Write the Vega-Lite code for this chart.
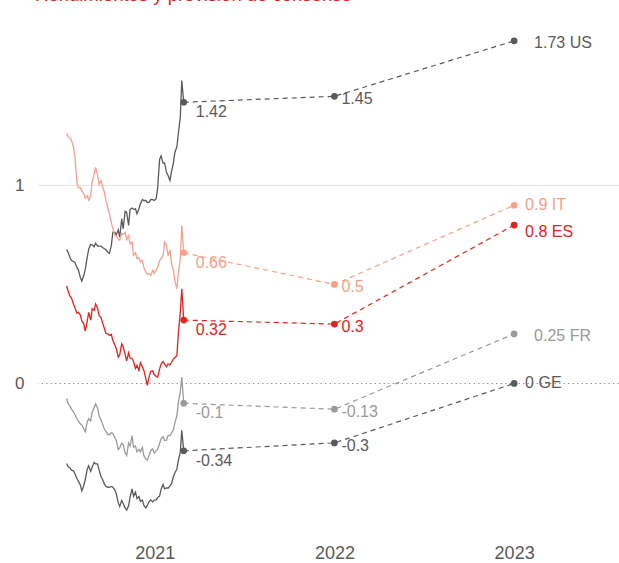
{
  "$schema": "https://vega.github.io/schema/vega-lite/v6.json",
  "width": 581,
  "height": 505,
  "autosize": {"type": "none"},
  "padding": {"left": 38, "top": 27, "right": 0, "bottom": 31},
  "background": "white",
  "config": {"view": {"stroke": null}, "font": "Liberation Sans"},
  "title": {"text": "Rendimientos y previsión de consenso", "color": "#e2231a", "fontSize": 18.5, "font": "Liberation Sans", "fontWeight": "normal", "anchor": "start", "frame": "group", "offset": 22.5, "dx": -3},
  "datasets": {
    "hist": [
      {"d": "2020-07-06", "US": 0.677, "IT": 1.263, "ES": 0.492, "FR": -0.076, "GE": -0.404},
      {"d": "2020-07-09", "US": 0.663, "IT": 1.246, "ES": 0.468, "FR": -0.101, "GE": -0.419},
      {"d": "2020-07-13", "US": 0.636, "IT": 1.241, "ES": 0.441, "FR": -0.116, "GE": -0.426},
      {"d": "2020-07-16", "US": 0.621, "IT": 1.227, "ES": 0.431, "FR": -0.130, "GE": -0.438},
      {"d": "2020-07-20", "US": 0.616, "IT": 1.195, "ES": 0.401, "FR": -0.143, "GE": -0.441},
      {"d": "2020-07-23", "US": 0.611, "IT": 1.146, "ES": 0.382, "FR": -0.157, "GE": -0.456},
      {"d": "2020-07-27", "US": 0.586, "IT": 1.017, "ES": 0.355, "FR": -0.177, "GE": -0.480},
      {"d": "2020-07-30", "US": 0.574, "IT": 0.988, "ES": 0.359, "FR": -0.190, "GE": -0.493},
      {"d": "2020-08-03", "US": 0.535, "IT": 0.990, "ES": 0.345, "FR": -0.204, "GE": -0.513},
      {"d": "2020-08-06", "US": 0.517, "IT": 0.971, "ES": 0.316, "FR": -0.210, "GE": -0.542},
      {"d": "2020-08-10", "US": 0.545, "IT": 0.958, "ES": 0.301, "FR": -0.229, "GE": -0.515},
      {"d": "2020-08-13", "US": 0.576, "IT": 0.936, "ES": 0.264, "FR": -0.244, "GE": -0.485},
      {"d": "2020-08-17", "US": 0.638, "IT": 0.948, "ES": 0.315, "FR": -0.194, "GE": -0.433},
      {"d": "2020-08-20", "US": 0.678, "IT": 0.926, "ES": 0.359, "FR": -0.178, "GE": -0.416},
      {"d": "2020-08-24", "US": 0.702, "IT": 0.949, "ES": 0.320, "FR": -0.189, "GE": -0.444},
      {"d": "2020-08-27", "US": 0.700, "IT": 1.017, "ES": 0.377, "FR": -0.145, "GE": -0.423},
      {"d": "2020-08-31", "US": 0.690, "IT": 1.059, "ES": 0.369, "FR": -0.123, "GE": -0.399},
      {"d": "2020-09-03", "US": 0.709, "IT": 1.091, "ES": 0.401, "FR": -0.103, "GE": -0.406},
      {"d": "2020-09-07", "US": 0.694, "IT": 1.051, "ES": 0.380, "FR": -0.125, "GE": -0.406},
      {"d": "2020-09-10", "US": 0.694, "IT": 1.005, "ES": 0.343, "FR": -0.163, "GE": -0.436},
      {"d": "2020-09-14", "US": 0.694, "IT": 1.024, "ES": 0.333, "FR": -0.184, "GE": -0.470},
      {"d": "2020-09-17", "US": 0.687, "IT": 0.997, "ES": 0.306, "FR": -0.204, "GE": -0.485},
      {"d": "2020-09-21", "US": 0.680, "IT": 0.963, "ES": 0.276, "FR": -0.232, "GE": -0.508},
      {"d": "2020-09-24", "US": 0.675, "IT": 0.923, "ES": 0.253, "FR": -0.242, "GE": -0.520},
      {"d": "2020-09-28", "US": 0.663, "IT": 0.886, "ES": 0.251, "FR": -0.258, "GE": -0.524},
      {"d": "2020-10-01", "US": 0.657, "IT": 0.857, "ES": 0.242, "FR": -0.259, "GE": -0.525},
      {"d": "2020-10-05", "US": 0.697, "IT": 0.811, "ES": 0.247, "FR": -0.249, "GE": -0.520},
      {"d": "2020-10-08", "US": 0.764, "IT": 0.783, "ES": 0.217, "FR": -0.254, "GE": -0.524},
      {"d": "2020-10-12", "US": 0.763, "IT": 0.747, "ES": 0.195, "FR": -0.273, "GE": -0.537},
      {"d": "2020-10-15", "US": 0.751, "IT": 0.747, "ES": 0.175, "FR": -0.288, "GE": -0.557},
      {"d": "2020-10-19", "US": 0.776, "IT": 0.727, "ES": 0.133, "FR": -0.333, "GE": -0.603},
      {"d": "2020-10-22", "US": 0.739, "IT": 0.724, "ES": 0.146, "FR": -0.325, "GE": -0.621},
      {"d": "2020-10-26", "US": 0.832, "IT": 0.758, "ES": 0.200, "FR": -0.301, "GE": -0.591},
      {"d": "2020-10-29", "US": 0.781, "IT": 0.753, "ES": 0.184, "FR": -0.308, "GE": -0.606},
      {"d": "2020-11-02", "US": 0.869, "IT": 0.763, "ES": 0.146, "FR": -0.350, "GE": -0.628},
      {"d": "2020-11-05", "US": 0.865, "IT": 0.727, "ES": 0.114, "FR": -0.364, "GE": -0.640},
      {"d": "2020-11-09", "US": 0.798, "IT": 0.746, "ES": 0.155, "FR": -0.301, "GE": -0.618},
      {"d": "2020-11-12", "US": 0.879, "IT": 0.705, "ES": 0.130, "FR": -0.316, "GE": -0.574},
      {"d": "2020-11-16", "US": 0.886, "IT": 0.714, "ES": 0.125, "FR": -0.263, "GE": -0.532},
      {"d": "2020-11-19", "US": 0.879, "IT": 0.646, "ES": 0.111, "FR": -0.322, "GE": -0.569},
      {"d": "2020-11-23", "US": 0.882, "IT": 0.660, "ES": 0.076, "FR": -0.316, "GE": -0.549},
      {"d": "2020-11-26", "US": 0.857, "IT": 0.631, "ES": 0.091, "FR": -0.345, "GE": -0.581},
      {"d": "2020-11-30", "US": 0.882, "IT": 0.635, "ES": 0.066, "FR": -0.333, "GE": -0.571},
      {"d": "2020-12-03", "US": 0.907, "IT": 0.614, "ES": 0.104, "FR": -0.345, "GE": -0.596},
      {"d": "2020-12-07", "US": 0.929, "IT": 0.621, "ES": 0.084, "FR": -0.322, "GE": -0.589},
      {"d": "2020-12-10", "US": 0.924, "IT": 0.586, "ES": 0.066, "FR": -0.365, "GE": -0.616},
      {"d": "2020-12-14", "US": 0.924, "IT": 0.562, "ES": 0.024, "FR": -0.382, "GE": -0.628},
      {"d": "2020-12-17", "US": 0.914, "IT": 0.552, "ES": -0.010, "FR": -0.387, "GE": -0.616},
      {"d": "2020-12-21", "US": 0.916, "IT": 0.554, "ES": 0.037, "FR": -0.360, "GE": -0.594},
      {"d": "2020-12-24", "US": 0.929, "IT": 0.545, "ES": 0.061, "FR": -0.338, "GE": -0.588},
      {"d": "2020-12-28", "US": 0.928, "IT": 0.571, "ES": 0.064, "FR": -0.330, "GE": -0.599},
      {"d": "2020-12-31", "US": 0.924, "IT": 0.557, "ES": 0.045, "FR": -0.352, "GE": -0.589},
      {"d": "2021-01-04", "US": 0.933, "IT": 0.571, "ES": 0.035, "FR": -0.338, "GE": -0.588},
      {"d": "2021-01-07", "US": 0.987, "IT": 0.586, "ES": 0.032, "FR": -0.333, "GE": -0.576},
      {"d": "2021-01-11", "US": 1.131, "IT": 0.621, "ES": 0.074, "FR": -0.303, "GE": -0.569},
      {"d": "2021-01-14", "US": 1.150, "IT": 0.630, "ES": 0.098, "FR": -0.279, "GE": -0.534},
      {"d": "2021-01-18", "US": 1.113, "IT": 0.646, "ES": 0.111, "FR": -0.269, "GE": -0.510},
      {"d": "2021-01-21", "US": 1.114, "IT": 0.714, "ES": 0.098, "FR": -0.288, "GE": -0.532},
      {"d": "2021-01-25", "US": 1.066, "IT": 0.697, "ES": 0.084, "FR": -0.286, "GE": -0.527},
      {"d": "2021-01-28", "US": 1.051, "IT": 0.646, "ES": 0.098, "FR": -0.263, "GE": -0.529},
      {"d": "2021-02-01", "US": 1.025, "IT": 0.675, "ES": 0.094, "FR": -0.263, "GE": -0.517},
      {"d": "2021-02-04", "US": 1.067, "IT": 0.609, "ES": 0.106, "FR": -0.251, "GE": -0.507},
      {"d": "2021-02-08", "US": 1.114, "IT": 0.569, "ES": 0.123, "FR": -0.234, "GE": -0.470},
      {"d": "2021-02-11", "US": 1.168, "IT": 0.519, "ES": 0.131, "FR": -0.199, "GE": -0.451},
      {"d": "2021-02-15", "US": 1.194, "IT": 0.478, "ES": 0.140, "FR": -0.163, "GE": -0.433},
      {"d": "2021-02-18", "US": 1.261, "IT": 0.554, "ES": 0.251, "FR": -0.098, "GE": -0.389},
      {"d": "2021-02-22", "US": 1.345, "IT": 0.630, "ES": 0.360, "FR": -0.044, "GE": -0.347},
      {"d": "2021-02-25", "US": 1.530, "IT": 0.798, "ES": 0.478, "FR": 0.032, "GE": -0.237},
      {"d": "2021-03-01", "US": 1.42, "IT": 0.66, "ES": 0.32, "FR": -0.10, "GE": -0.34}
    ],
    "fc": [
      {"c": "US", "k": "end", "d": "2021-03-01", "v": 1.42, "lab": "1.42"},
      {"c": "US", "k": "y22", "d": "2022-01-01", "v": 1.45, "lab": "1.45"},
      {"c": "US", "k": "y23", "d": "2023-01-01", "v": 1.73, "lab": "1.73 US"},
      {"c": "IT", "k": "end", "d": "2021-03-01", "v": 0.66, "lab": "0.66"},
      {"c": "IT", "k": "y22", "d": "2022-01-01", "v": 0.5, "lab": "0.5"},
      {"c": "IT", "k": "y23", "d": "2023-01-01", "v": 0.9, "lab": "0.9 IT"},
      {"c": "ES", "k": "end", "d": "2021-03-01", "v": 0.32, "lab": "0.32"},
      {"c": "ES", "k": "y22", "d": "2022-01-01", "v": 0.3, "lab": "0.3"},
      {"c": "ES", "k": "y23", "d": "2023-01-01", "v": 0.8, "lab": "0.8 ES"},
      {"c": "FR", "k": "end", "d": "2021-03-01", "v": -0.1, "lab": "-0.1"},
      {"c": "FR", "k": "y22", "d": "2022-01-01", "v": -0.13, "lab": "-0.13"},
      {"c": "FR", "k": "y23", "d": "2023-01-01", "v": 0.25, "lab": "0.25 FR"},
      {"c": "GE", "k": "end", "d": "2021-03-01", "v": -0.34, "lab": "-0.34"},
      {"c": "GE", "k": "y22", "d": "2022-01-01", "v": -0.3, "lab": "-0.3"},
      {"c": "GE", "k": "y23", "d": "2023-01-01", "v": 0, "lab": "0 GE"}
    ]
  },
  "layer": [
    {
      "data": {"values": [{"v": 1}]},
      "mark": {"type": "rule", "color": "#e4e4e4", "strokeWidth": 1},
      "encoding": {"y": {"field": "v", "type": "quantitative", "scale": {"domain": [-0.75, 1.8]}}}
    },
    {
      "data": {"values": [{"v": 0}]},
      "mark": {"type": "rule", "color": "#9a9a9a", "strokeWidth": 1, "strokeDash": [1.5, 3]},
      "encoding": {"y": {"field": "v", "type": "quantitative", "scale": {"domain": [-0.75, 1.8]}}}
    },
    {
      "data": {"name": "hist"},
      "transform": [{"fold": ["US", "IT", "ES", "FR", "GE"], "as": ["c", "v"]}],
      "mark": {"type": "line", "strokeWidth": 1.3},
      "encoding": {
        "x": {"field": "d", "type": "temporal",
          "scale": {"type": "utc", "domain": [{"year": 2020, "month": 5, "date": 9, "utc": true}, {"year": 2023, "month": 8, "date": 2, "utc": true}]},
          "axis": {"values": [{"year": 2021, "month": 1, "date": 1, "utc": true}, {"year": 2022, "month": 1, "date": 1, "utc": true}, {"year": 2023, "month": 1, "date": 1, "utc": true}],
            "format": "%Y", "title": null, "domain": false, "ticks": false, "grid": false, "labelFontSize": 18, "labelColor": "#595959", "labelPadding": 12, "labelFont": "Liberation Sans"}},
        "y": {"field": "v", "type": "quantitative", "scale": {"domain": [-0.75, 1.8]},
          "axis": {"values": [0, 1], "format": "d", "title": null, "domain": false, "ticks": false, "grid": false, "labelFontSize": 17, "labelColor": "#595959", "labelPadding": 14, "labelFont": "Liberation Sans"}},
        "color": {"field": "c", "type": "nominal", "scale": {"domain": ["US", "IT", "ES", "FR", "GE"], "range": ["#5a5a5a", "#f8a08b", "#e2231a", "#9a9a9a", "#5a5a5a"]}, "legend": null},
        "detail": {"field": "c"}
      }
    },
    {
      "data": {"name": "fc"},
      "mark": {"type": "line", "strokeWidth": 1.2, "strokeDash": [5, 4]},
      "encoding": {
        "x": {"field": "d", "type": "temporal"},
        "y": {"field": "v", "type": "quantitative", "scale": {"domain": [-0.75, 1.8]}},
        "color": {"field": "c", "type": "nominal", "legend": null},
        "detail": {"field": "c"}
      }
    },
    {
      "data": {"name": "fc"},
      "mark": {"type": "circle", "size": 45, "opacity": 1},
      "encoding": {
        "x": {"field": "d", "type": "temporal"},
        "y": {"field": "v", "type": "quantitative", "scale": {"domain": [-0.75, 1.8]}},
        "color": {"field": "c", "type": "nominal", "legend": null}
      }
    },
    {
      "data": {"name": "fc"},
      "transform": [{"filter": "datum.k == 'end'"}],
      "mark": {"type": "text", "align": "left", "baseline": "middle", "dx": 12, "dy": 10, "fontSize": 16, "font": "Liberation Sans"},
      "encoding": {
        "x": {"field": "d", "type": "temporal"},
        "y": {"field": "v", "type": "quantitative", "scale": {"domain": [-0.75, 1.8]}},
        "text": {"field": "lab"},
        "color": {"field": "c", "type": "nominal", "legend": null}
      }
    },
    {
      "data": {"name": "fc"},
      "transform": [{"filter": "datum.k == 'y22'"}],
      "mark": {"type": "text", "align": "left", "baseline": "middle", "dx": 7, "dy": 3, "fontSize": 16, "font": "Liberation Sans"},
      "encoding": {
        "x": {"field": "d", "type": "temporal"},
        "y": {"field": "v", "type": "quantitative", "scale": {"domain": [-0.75, 1.8]}},
        "text": {"field": "lab"},
        "color": {"field": "c", "type": "nominal", "legend": null}
      }
    },
    {
      "data": {"name": "fc"},
      "transform": [{"filter": "datum.k == 'y23' && (datum.c == 'US' || datum.c == 'FR')"}],
      "mark": {"type": "text", "align": "left", "baseline": "middle", "dx": 20, "dy": 2, "fontSize": 16, "font": "Liberation Sans"},
      "encoding": {
        "x": {"field": "d", "type": "temporal"},
        "y": {"field": "v", "type": "quantitative", "scale": {"domain": [-0.75, 1.8]}},
        "text": {"field": "lab"},
        "color": {"field": "c", "type": "nominal", "legend": null}
      }
    },
    {
      "data": {"name": "fc"},
      "transform": [{"filter": "datum.k == 'y23' && (datum.c == 'IT' || datum.c == 'GE')"}],
      "mark": {"type": "text", "align": "left", "baseline": "middle", "dx": 11, "dy": 0, "fontSize": 16, "font": "Liberation Sans"},
      "encoding": {
        "x": {"field": "d", "type": "temporal"},
        "y": {"field": "v", "type": "quantitative", "scale": {"domain": [-0.75, 1.8]}},
        "text": {"field": "lab"},
        "color": {"field": "c", "type": "nominal", "legend": null}
      }
    },
    {
      "data": {"name": "fc"},
      "transform": [{"filter": "datum.k == 'y23' && datum.c == 'ES'"}],
      "mark": {"type": "text", "align": "left", "baseline": "middle", "dx": 11, "dy": 7, "fontSize": 16, "font": "Liberation Sans"},
      "encoding": {
        "x": {"field": "d", "type": "temporal"},
        "y": {"field": "v", "type": "quantitative", "scale": {"domain": [-0.75, 1.8]}},
        "text": {"field": "lab"},
        "color": {"field": "c", "type": "nominal", "legend": null}
      }
    }
  ]
}
